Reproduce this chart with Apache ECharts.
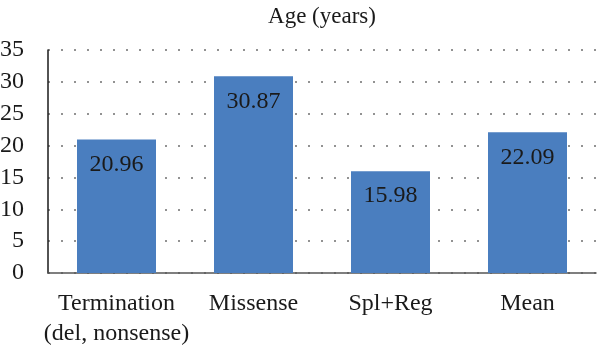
<!DOCTYPE html>
<html>
<head>
<meta charset="utf-8">
<script src="https://cdn.jsdelivr.net/npm/echarts@6/dist/echarts.min.js"></script>
<style>
  html, body { margin: 0; padding: 0; background: #fff; }
  #chart { width: 600px; height: 350px; }
</style>
</head>
<body>
<div id="chart"></div>
<script>
// Mean age per mutation group
const categories = ['Termination\n(del, nonsense)', 'Missense', 'Spl+Reg', 'Mean'];
const ageValues = [20.96, 30.87, 15.98, 22.09];
const yTicks = { min: 0, max: 35, interval: 5 };

const serif = '"Liberation Serif", "DejaVu Serif", serif';
const chart = echarts.init(document.getElementById('chart'), null, { renderer: 'canvas' });

chart.setOption({
  backgroundColor: '#ffffff',
  animation: false,
  title: {
    text: 'Age (years)',
    left: 317,
    textAlign: 'center',
    top: 0,
    textStyle: { fontFamily: serif, fontSize: 23, fontWeight: 'normal', color: '#1a1a1a' }
  },
  grid: { left: 48, right: 4, top: 50, bottom: 77, containLabel: false, outerBoundsMode: 'none' },
  xAxis: {
    type: 'category',
    data: categories,
    axisLine: { show: true, lineStyle: { color: '#555', width: 1.5 } },
    axisTick: { show: false },
    axisLabel: {
      fontFamily: serif, fontSize: 24, color: '#1a1a1a',
      lineHeight: 30, margin: 16, interval: 0
    }
  },
  yAxis: {
    type: 'value',
    min: yTicks.min, max: yTicks.max, interval: yTicks.interval,
    axisLine: { show: true, lineStyle: { color: '#1a1a1a', width: 1.5 } },
    axisTick: { show: false },
    axisLabel: { fontFamily: serif, fontSize: 24, color: '#1a1a1a', margin: 24, align: 'right' },
    splitLine: { show: true, lineStyle: { color: '#6f6f6f', width: 1.5, type: [2, 11] } }
  },
  series: [{
    type: 'bar',
    data: ageValues,
    barWidth: 79,
    itemStyle: { color: '#4a7ebf' },
    label: {
      show: true,
      position: 'insideTop',
      distance: 13,
      fontFamily: serif,
      fontSize: 24,
      color: '#1a1a1a',
      formatter: p => p.value.toFixed(2)
    }
  }]
});
</script>
</body>
</html>
